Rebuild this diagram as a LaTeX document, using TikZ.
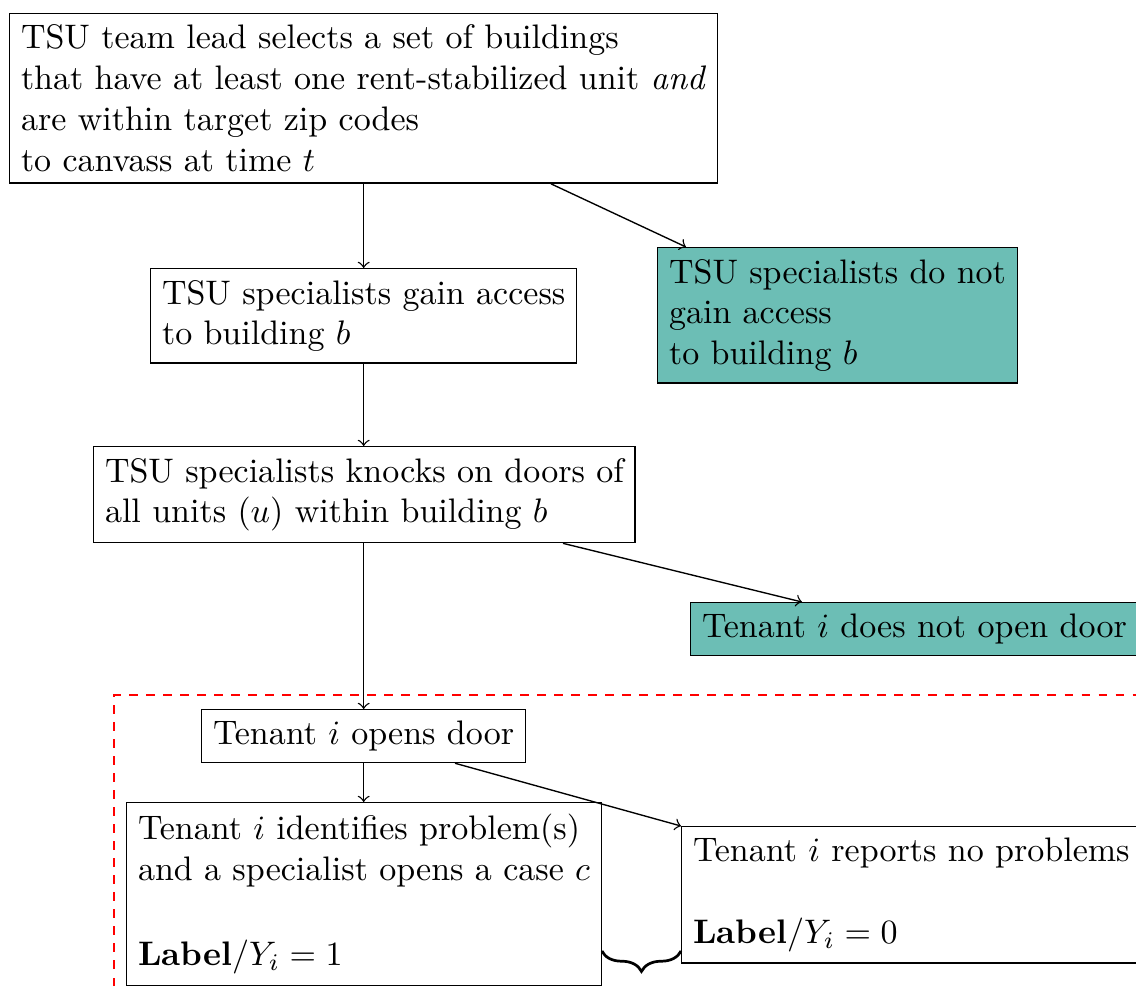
\documentclass[tikz,border=0pt]{standalone}
\usetikzlibrary{decorations.pathreplacing}
\definecolor{tealbox}{RGB}{108,190,181}
\begin{document}
\begin{tikzpicture}[x=0.294pt,y=-0.294pt,
  box/.style={draw,align=left,anchor=north west},
  fbox/.style={box,fill=tealbox},
  arr/.style={->}]
\useasboundingbox (0,0) rectangle (1136,994);
\clip (0,0) rectangle (1136,994);
\node[box] (top) at (9,13) {TSU team lead selects a set of buildings\\that have at least one rent-stabilized unit \emph{and}\\are within target zip codes\\to canvass at time $t$};
\node[box] (access) at (150,268) {TSU specialists gain access\\to building $b$};
\node[fbox] (noaccess) at (657,247) {TSU specialists do not\\gain access\\to building $b$};
\node[box] (knock) at (93,446) {TSU specialists knocks on doors of\\all units ($u$) within building $b$};
\node[fbox] (noopen) at (690,602) {Tenant $i$ does not open door};
\node[box] (opens) at (201,709) {Tenant $i$ opens door};
\node[box] (problem) at (126,802) {Tenant $i$ identifies problem(s)\\and a specialist opens a case $c$\\[13pt]\textbf{Label}/$Y_i=1$};
\node[box] (noproblem) at (681,826) {Tenant $i$ reports no problems\\[12pt]\textbf{Label}/$Y_i=0$};
\draw[red,dashed,dash pattern=on 2.5pt off 2.5pt] (114,1020) -- (114,695) -- (1160,695);
\draw[arr] (top.south -| access.north) -- (access.north);
\draw[arr] (top.south -| 551,0) -- (noaccess.north west -| 686,0);
\draw[arr] (access.south) -- (knock.north -| access.south);
\draw[arr] (knock.south -| 563,0) -- (noopen.north -| 802,0);
\draw[arr] (knock.south -| access.south) -- (opens.north -| access.south);
\draw[arr] (opens.south -| access.south) -- (problem.north -| access.south);
\draw[arr] (opens.south -| 455,0) -- (noproblem.north west);
\coordinate (bl) at (problem.east |- 0,951);
\coordinate (br) at (noproblem.west |- 0,951);
\draw[thick,decorate,decoration={brace,mirror,amplitude=6pt}] (bl) -- (br);
\end{tikzpicture}
\end{document}
